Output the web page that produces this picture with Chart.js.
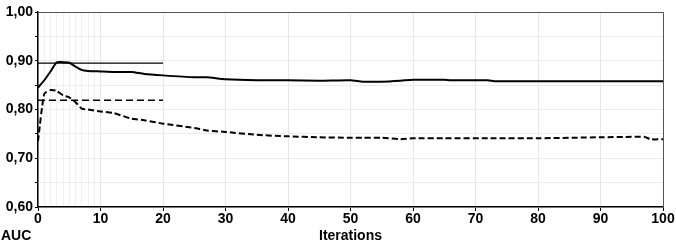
<!DOCTYPE html>
<html>
<head>
<meta charset="utf-8">
<script src="https://cdn.jsdelivr.net/npm/chart.js@4/dist/chart.umd.min.js"></script>
<style>
  html, body { margin: 0; padding: 0; background: #fff; }
  #wrap { width: 676px; height: 246px; }
</style>
</head>
<body>
<div id="wrap"><canvas id="auc" width="676" height="246"></canvas></div>
<script>
// data
const iterations = [0, 1, 2, 3, 4, 5, 6, 7, 8, 10, 12, 15, 17, 20, 25, 27, 30, 35, 40, 45, 50, 52, 55, 58, 60, 65, 66, 72, 73, 80, 90, 95, 97, 98, 100];
const aucSolid = [0.845, 0.860, 0.878, 0.897, 0.897, 0.896, 0.888, 0.881, 0.879, 0.878, 0.877, 0.877, 0.873, 0.870, 0.866, 0.866, 0.862, 0.860, 0.860, 0.859, 0.860, 0.857, 0.857, 0.859, 0.861, 0.861, 0.860, 0.860, 0.858, 0.858, 0.858, 0.858, 0.858, 0.858, 0.858];
const aucDashed = [0.735, 0.832, 0.840, 0.838, 0.829, 0.825, 0.815, 0.802, 0.800, 0.796, 0.793, 0.781, 0.778, 0.771, 0.762, 0.757, 0.754, 0.748, 0.745, 0.743, 0.742, 0.742, 0.742, 0.739, 0.741, 0.741, 0.741, 0.741, 0.741, 0.741, 0.743, 0.744, 0.744, 0.739, 0.739];
// horizontal reference lines (x from 0 to 20)
const refRange = [0, 20];
const refSolid = 0.895;
const refDashed = 0.819;

const xTitle = "Iterations";
const yTitle = "AUC";

const FONT = "'Liberation Sans', Arial, sans-serif";

function pts(xs, ys) {
  return xs.map((x, i) => ({ x: x, y: ys[i] }));
}

// frame + axis titles
const decor = {
  id: "decor",
  afterDraw(chart) {
    const { ctx, chartArea: a } = chart;
    ctx.save();
    ctx.strokeStyle = "#555";
    ctx.lineWidth = 1;
    ctx.beginPath();
    ctx.moveTo(a.left, a.top + 0.5);
    ctx.lineTo(a.right + 0.5, a.top + 0.5);
    ctx.lineTo(a.right + 0.5, a.bottom);
    ctx.stroke();
    ctx.fillStyle = "#000";
    ctx.font = "bold 14px " + FONT;
    ctx.textBaseline = "middle";
    ctx.textAlign = "left";
    ctx.fillText(yTitle, 1, 236);
    ctx.textAlign = "center";
    ctx.fillText(xTitle, (a.left + a.right) / 2, 236);
    ctx.restore();
  }
};

new Chart(document.getElementById("auc"), {
  type: "line",
  data: {
    datasets: [
      { data: pts(iterations, aucSolid), borderColor: "#000", borderWidth: 2, pointRadius: 0, tension: 0.2 },
      { data: pts(iterations, aucDashed), borderColor: "#000", borderWidth: 2, borderDash: [6, 3], pointRadius: 0, tension: 0.2 },
      { data: pts(refRange, [refSolid, refSolid]), borderColor: "#000", borderWidth: 1.3, pointRadius: 0 },
      { data: pts(refRange, [refDashed, refDashed]), borderColor: "#000", borderWidth: 1.3, borderDash: [7, 4], pointRadius: 0 }
    ]
  },
  options: {
    responsive: false,
    animation: false,
    layout: { padding: { top: 12, right: 13, left: 0, bottom: 0 } },
    plugins: { legend: { display: false }, tooltip: { enabled: false } },
    scales: {
      x: {
        type: "linear",
        min: 0,
        max: 100,
        afterFit: (s) => { s.height = 39; },
        afterBuildTicks: (s) => {
          const t = [];
          for (let i = 0; i <= 100; i++) t.push({ value: i });
          s.ticks = t;
        },
        border: { color: "#000", width: 1.5 },
        grid: {
          color: (c) => {
            const v = c.tick ? c.tick.value : 0;
            if (v % 10 === 0) return "#e6e6e6";
            if (v < 10) return "#f0f0f0";
            return "rgba(0,0,0,0)";
          },
          tickColor: (c) => (c.tick && c.tick.value % 10 === 0 ? "#000" : "rgba(0,0,0,0)"),
          tickLength: 4
        },
        ticks: {
          autoSkip: false,
          maxRotation: 0,
          padding: 0,
          color: "#000",
          font: { family: FONT, size: 14, weight: "bold" },
          callback: (v) => (v % 10 === 0 ? String(v) : "")
        }
      },
      y: {
        min: 0.6,
        max: 1.0,
        afterFit: (s) => { s.width = 38; },
        afterBuildTicks: (s) => {
          const t = [];
          for (let i = 0; i <= 8; i++) t.push({ value: 0.6 + i * 0.05 });
          s.ticks = t;
        },
        border: { color: "#000", width: 1.5 },
        grid: {
          color: "#ececec",
          tickColor: "#000",
          tickLength: 3
        },
        ticks: {
          padding: 2,
          color: "#000",
          font: { family: FONT, size: 14, weight: "bold" },
          callback: (v, i) => (i % 2 === 0 ? v.toFixed(2).replace(".", ",") : "")
        }
      }
    }
  },
  plugins: [decor]
});
</script>
</body>
</html>
